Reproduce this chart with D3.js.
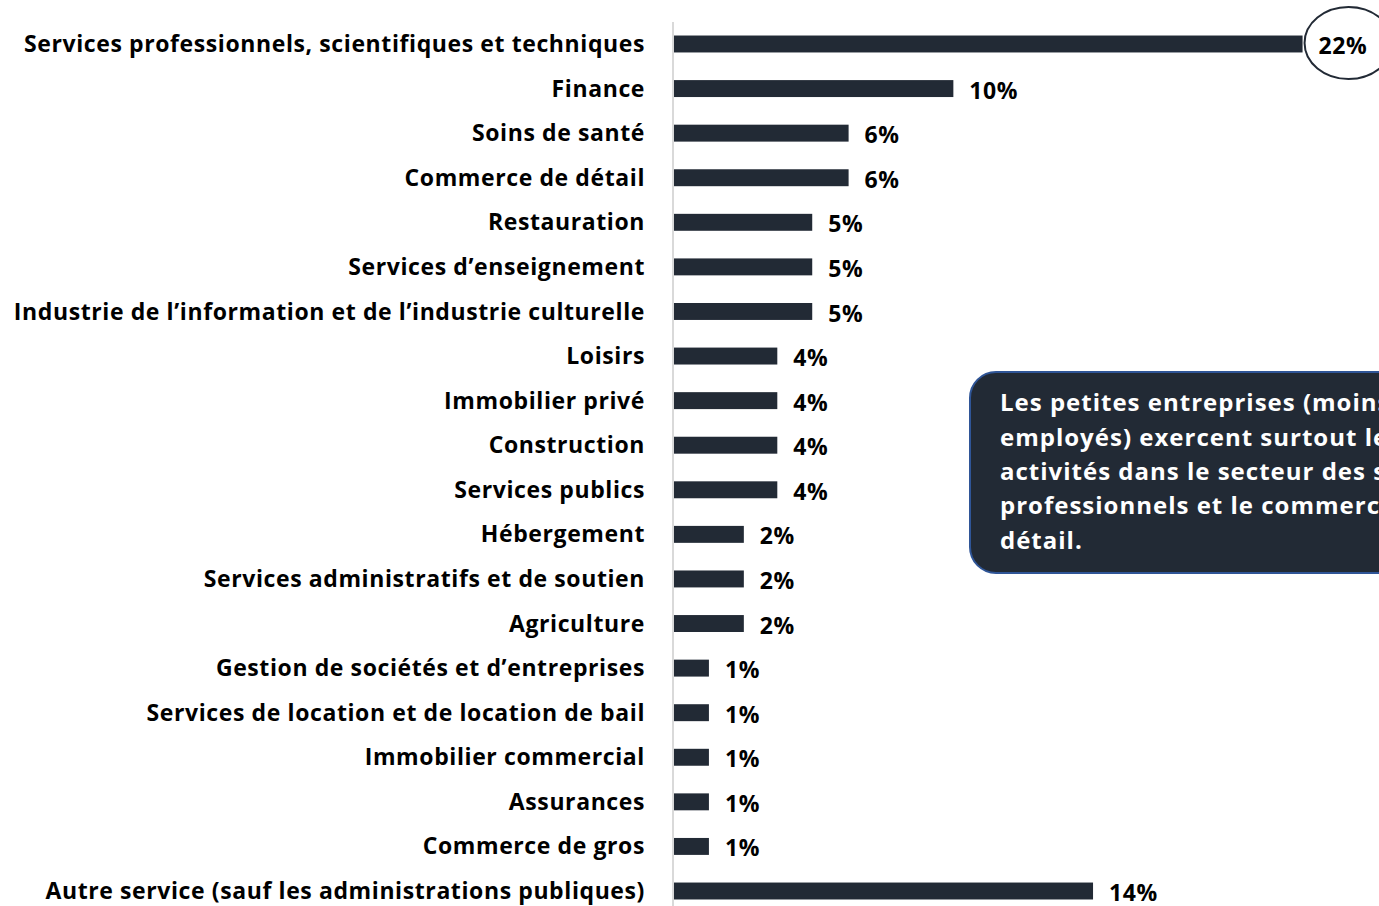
<!DOCTYPE html>
<html>
<head>
<meta charset="utf-8">
<script src="https://cdn.jsdelivr.net/npm/d3@7"></script>
<style>
  body { margin: 0; background: #fff; }
  svg { display: block; font-family: "Open Sans", sans-serif; font-weight: 700; }
</style>
</head>
<body>
<svg id="chart" width="1379" height="906"></svg>
<script>
// categories, top to bottom
const categories = [
  "Services professionnels, scientifiques et techniques",
  "Finance",
  "Soins de santé",
  "Commerce de détail",
  "Restauration",
  "Services d’enseignement",
  "Industrie de l’information et de l’industrie culturelle",
  "Loisirs",
  "Immobilier privé",
  "Construction",
  "Services publics",
  "Hébergement",
  "Services administratifs et de soutien",
  "Agriculture",
  "Gestion de sociétés et d’entreprises",
  "Services de location et de location de bail",
  "Immobilier commercial",
  "Assurances",
  "Commerce de gros",
  "Autre service (sauf les administrations publiques)"
];

// share of small businesses (%)
const values = [21.6, 9.6, 6.0, 6.0, 4.75, 4.75, 4.75, 3.55, 3.55, 3.55, 3.55,
  2.4, 2.4, 2.4, 1.2, 1.2, 1.2, 1.2, 1.2, 14.4];

// labels shown at the end of each bar
const valueLabels = ["22%", "10%", "6%", "6%", "5%", "5%", "5%", "4%", "4%", "4%",
  "4%", "2%", "2%", "2%", "1%", "1%", "1%", "1%", "1%", "14%"];

const calloutLines = [
  "Les petites entreprises (moins de 100",
  "employés) exercent surtout leurs",
  "activités dans le secteur des services",
  "professionnels et le commerce de",
  "détail."
];

const svg = d3.select("#chart");
const barColor = "#222a35";

const x = d3.scaleLinear().domain([0, 25]).range([674, 674 + 25 * 29.1]);
const y = d3.scaleBand()
  .domain(categories)
  .range([21.7, 913.3])
  .paddingInner(0.62)
  .paddingOuter(0.31);

// left axis line
svg.append("line")
  .attr("x1", 673).attr("x2", 673)
  .attr("y1", 22).attr("y2", 906)
  .attr("stroke", "#d9d9d9")
  .attr("stroke-width", 2);

// bars
svg.selectAll(".bar")
  .data(values)
  .enter()
  .append("rect")
  .attr("class", "bar")
  .attr("x", x(0))
  .attr("y", (d, i) => y(categories[i]))
  .attr("width", (d) => x(d) - x(0))
  .attr("height", y.bandwidth())
  .attr("fill", barColor);

// category labels
svg.selectAll(".cat")
  .data(categories)
  .enter()
  .append("text")
  .attr("class", "cat")
  .attr("x", 645)
  .attr("y", (d) => y(d) + y.bandwidth() / 2)
  .attr("dy", "0.35em")
  .attr("text-anchor", "end")
  .attr("font-size", 23)
  .attr("letter-spacing", 0.6)
  .attr("fill", "#000")
  .text((d) => d);

// highlight ellipse around the first value
svg.append("ellipse")
  .attr("cx", x(values[0]) + 46)
  .attr("cy", y(categories[0]) + y.bandwidth() / 2 - 1)
  .attr("rx", 44)
  .attr("ry", 36)
  .attr("fill", "#fff")
  .attr("stroke", barColor)
  .attr("stroke-width", 2);

// value labels
svg.selectAll(".val")
  .data(values)
  .enter()
  .append("text")
  .attr("class", "val")
  .attr("x", (d) => x(d) + 16)
  .attr("y", (d, i) => y(categories[i]) + y.bandwidth() / 2 + 2)
  .attr("dy", "0.35em")
  .attr("font-size", 23)
  .attr("letter-spacing", 0.6)
  .attr("fill", "#000")
  .text((d, i) => valueLabels[i]);

// callout box (runs off the right edge, like the slide it comes from)
const callout = svg.append("g").attr("transform", "translate(970,372)");
callout.append("rect")
  .attr("width", 460)
  .attr("height", 201)
  .attr("rx", 26)
  .attr("fill", barColor)
  .attr("stroke", "#2f5597")
  .attr("stroke-width", 2);

callout.selectAll("text")
  .data(calloutLines)
  .enter()
  .append("text")
  .attr("x", 30)
  .attr("y", (d, i) => 31 + i * 34.3)
  .attr("dy", "0.35em")
  .attr("font-size", 24)
  .attr("letter-spacing", 1.0)
  .attr("fill", "#fff")
  .text((d) => d);
</script>
</body>
</html>
